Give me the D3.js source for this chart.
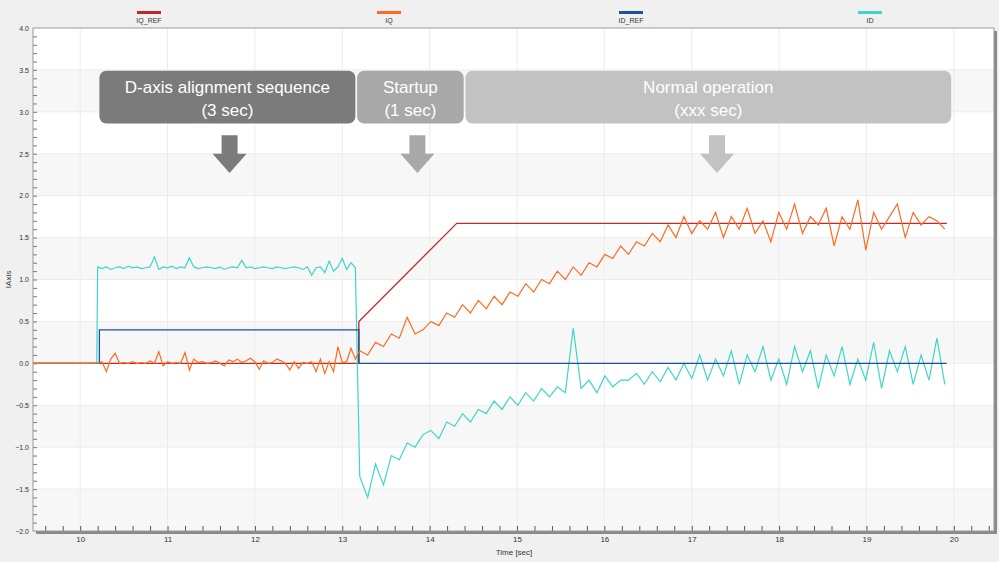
<!DOCTYPE html>
<html><head><meta charset="utf-8">
<script src="https://cdn.jsdelivr.net/npm/d3@7"></script>
<style>body{margin:0;background:#f0f0f0;font-family:"Liberation Sans",Arial,sans-serif}</style>
</head><body><svg id="c" width="999" height="562"></svg>
<script>
// sample grids for the measured signals: alignment segment and run segment
const PRE_T0 = 10.20, PRE_STEP = 0.05;
const POST_T0 = 13.20, POST_STEP = 0.0905;
const iqPre = [0,0.02,-0.1,0.05,0.12,0,0.01,0,0.02,0,0.01,0,0.03,0,0.14,-0.03,0.02,0,0.01,0,0.13,-0.08,0.05,0.01,0.02,0,0.01,0.03,0,-0.03,0.04,0.02,0.05,0.01,0.03,0.06,0.02,-0.07,0.03,0,0.01,0.05,0.03,0,-0.08,0.02,-0.06,0.01,0,0.02,-0.1,0.05,-0.12,0.02,-0.1,0.2,0.01,0.02,0.18,0.05];
const iqPost = [0.15,0.1,0.25,0.2,0.35,0.3,0.55,0.35,0.4,0.5,0.45,0.6,0.55,0.7,0.6,0.75,0.65,0.8,0.7,0.85,0.8,0.95,0.85,1.0,0.95,1.1,1.0,1.15,1.05,1.2,1.15,1.3,1.25,1.4,1.3,1.45,1.4,1.55,1.45,1.65,1.5,1.75,1.55,1.7,1.6,1.8,1.5,1.75,1.6,1.85,1.55,1.7,1.45,1.8,1.6,1.9,1.55,1.75,1.65,1.85,1.4,1.75,1.6,1.95,1.35,1.8,1.6,1.75,1.9,1.5,1.8,1.65,1.75,1.7,1.6];
const idPre = [1.15,1.13,1.15,1.12,1.14,1.15,1.13,1.16,1.14,1.15,1.13,1.14,1.15,1.27,1.12,1.15,1.14,1.16,1.13,1.15,1.14,1.26,1.15,1.13,1.14,1.15,1.14,1.13,1.15,1.12,1.14,1.15,1.14,1.23,1.14,1.15,1.13,1.14,1.15,1.14,1.13,1.15,1.14,1.13,1.14,1.15,1.14,1.12,1.15,1.05,1.14,1.15,1.08,1.22,1.1,1.15,1.25,1.12,1.2,1.14];
const idPost = [-1.35,-1.6,-1.2,-1.45,-1.1,-1.15,-0.95,-1.0,-0.85,-0.8,-0.9,-0.7,-0.75,-0.6,-0.7,-0.55,-0.6,-0.45,-0.55,-0.4,-0.5,-0.35,-0.45,-0.3,-0.4,-0.28,-0.35,0.42,-0.3,-0.2,-0.35,-0.15,-0.28,-0.2,-0.2,-0.12,-0.25,-0.1,-0.22,-0.05,-0.2,0.0,-0.18,0.1,-0.2,0.05,-0.15,0.15,-0.25,0.1,-0.1,0.2,-0.2,0.05,-0.25,0.2,-0.1,0.15,-0.3,0.1,-0.15,0.2,-0.25,0.05,-0.2,0.25,-0.3,0.15,-0.1,0.2,-0.25,0.1,-0.2,0.3,-0.25];
// reference setpoints [time, value]
const iqRef = [[9.46,0],[13.19,0],[13.19,0.5],[14.31,1.67],[19.92,1.67]];
const idRef = [[9.46,0],[10.22,0],[10.22,0.4],[13.19,0.4],[13.19,0],[19.92,0]];
const lead = [[9.46,0],[10.19,0]];

const legendNames = ['IQ_REF','IQ','ID_REF','ID'];
const colors = ['#c0282a','#ff6a1f','#1f4e9a','#3dd6c8'];
const phases = [
  {label:['D-axis alignment sequence','(3 sec)'], t0:10.22, t1:13.15, color:'#7b7b7b', arrowAt:11.71},
  {label:['Startup','(1 sec)'], t0:13.17, t1:14.39, color:'#a8a8a8', arrowAt:13.86},
  {label:['Normal operation','(xxx sec)'], t0:14.41, t1:19.97, color:'#c2c2c2', arrowAt:17.29}
];

const svg = d3.select('#c');
const L=33, R=994, Tp=28, B=531;
const x = d3.scaleLinear().domain([9.46,20.46]).range([L,R]);
const y = d3.scaleLinear().domain([-2,4]).range([B,Tp]);

svg.append('rect').attr('x',L+3).attr('y',Tp+3).attr('width',R-L).attr('height',B-Tp).attr('fill','#8a8a8a');
svg.append('rect').attr('x',L).attr('y',Tp).attr('width',R-L).attr('height',B-Tp).attr('fill','#fff');
d3.range(-2,4,0.5).forEach((v,i)=>{
  if(i%2===0) svg.append('rect').attr('x',L).attr('y',y(v+0.5)).attr('width',R-L).attr('height',y(v)-y(v+0.5)).attr('fill','#f7f7f7');
});
const g = svg.append('g');
d3.range(10,21).forEach(t=>g.append('line').attr('x1',x(t)).attr('x2',x(t)).attr('y1',Tp).attr('y2',B).attr('stroke','#ececec'));
d3.range(-1.5,4,0.5).forEach(v=>g.append('line').attr('x1',L).attr('x2',R).attr('y1',y(v)).attr('y2',y(v)).attr('stroke','#ececec'));

svg.append('g').attr('transform',`translate(0,${B})`)
  .call(d3.axisBottom(x).tickValues(d3.range(9.6,20.41,0.2)).tickSize(-5).tickFormat(''))
  .call(a=>{a.select('.domain').remove();a.selectAll('line').attr('stroke','#555');});
svg.append('g').attr('transform',`translate(0,${B})`)
  .call(d3.axisBottom(x).tickValues(d3.range(10,21)).tickSize(0).tickPadding(5).tickFormat(d3.format('d')))
  .call(a=>{a.select('.domain').remove();a.selectAll('text').attr('font-size',8).attr('fill','#333');});
svg.append('g').attr('transform',`translate(${L},0)`)
  .call(d3.axisLeft(y).tickValues(d3.range(-2,4.01,0.5)).tickSize(0).tickPadding(4).tickFormat(d3.format('.1f')))
  .call(a=>{a.select('.domain').remove();a.selectAll('text').attr('font-size',7).attr('fill','#333');});
svg.append('g').attr('transform',`translate(${L},0)`)
  .call(d3.axisRight(y).tickValues(d3.range(-1.9,4,0.1)).tickSize(4).tickFormat(''))
  .call(a=>{a.select('.domain').remove();a.selectAll('line').attr('stroke','#777');});
svg.append('rect').attr('x',L).attr('y',Tp).attr('width',R-L).attr('height',B-Tp).attr('fill','none').attr('stroke','#999');

svg.append('text').attr('x',Math.round((L+R)/2)).attr('y',555).attr('text-anchor','middle').attr('font-size',8).attr('fill','#333').text('Time [sec]');
svg.append('text').attr('transform',`translate(11,${y(1)}) rotate(-90)`).attr('text-anchor','middle').attr('font-size',8).attr('fill','#333').text('IAxis');

const lx=[149,389,631,870];
legendNames.forEach((n,i)=>{
  svg.append('rect').attr('x',lx[i]-12).attr('y',11).attr('width',24).attr('height',3).attr('fill',colors[i]);
  svg.append('text').attr('x',lx[i]).attr('y',23).attr('text-anchor','middle').attr('font-size',7).attr('fill','#333').text(n);
});

const line = d3.line().x(d=>x(d[0])).y(d=>y(d[1]));
const toPts = (vals,t0,step) => vals.map((v,i)=>[t0+i*step,v]);
const series = (pre,post) => lead.concat(toPts(pre,PRE_T0,PRE_STEP), toPts(post,POST_T0,POST_STEP));
svg.append('clipPath').attr('id','pc').append('rect').attr('x',L).attr('y',Tp).attr('width',R-L).attr('height',B-Tp);
const plot = svg.append('g').attr('clip-path','url(#pc)');
plot.append('path').attr('d',line(iqRef)).attr('fill','none').attr('stroke',colors[0]).attr('stroke-width',1.3);
plot.append('path').attr('d',line(series(idPre,idPost))).attr('fill','none').attr('stroke',colors[3]).attr('stroke-width',1.2);
plot.append('path').attr('d',line(idRef)).attr('fill','none').attr('stroke',colors[2]).attr('stroke-width',1.3);
plot.append('path').attr('d',line(series(iqPre,iqPost))).attr('fill','none').attr('stroke',colors[1]).attr('stroke-width',1.2);

const by0=y(3.49), by1=y(2.86);
phases.forEach(p=>{
  svg.append('rect').attr('x',x(p.t0)).attr('y',by0).attr('width',x(p.t1)-x(p.t0)).attr('height',by1-by0).attr('rx',7).attr('fill',p.color);
  const cx=(x(p.t0)+x(p.t1))/2;
  p.label.forEach((s,k)=>svg.append('text').attr('x',cx).attr('y',by0+22+k*23).attr('text-anchor','middle').attr('font-size',17).attr('fill','#fff').text(s));
  const ax=x(p.arrowAt), a0=y(2.72), a1=y(2.27), ah=y(2.5);
  svg.append('path').attr('d',`M${ax-8},${a0}H${ax+8}V${ah}H${ax+17}L${ax},${a1}L${ax-17},${ah}H${ax-8}Z`).attr('fill',p.color);
});
</script></body></html>
